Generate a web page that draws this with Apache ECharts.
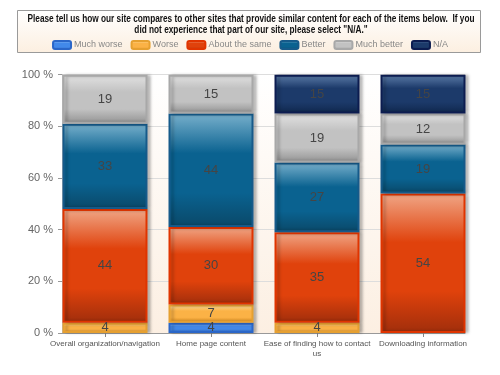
<!DOCTYPE html>
<html><head><meta charset="utf-8">
<script src="https://cdn.jsdelivr.net/npm/echarts@6/dist/echarts.min.js"></script>
<style>html,body{margin:0;padding:0;background:#fff}#c{width:500px;height:375px}</style>
</head><body><div id="c"></div>
<script>
const titleLines = ['Please tell us how our site compares to other sites that provide similar content for each of the items below.  If you', 'did not experience that part of our site, please select "N/A."'];
const categories = ['Overall organization/navigation', 'Home page content', 'Ease of finding how to contact\nus', 'Downloading information'];
const seriesNames = ['Much worse', 'Worse', 'About the same', 'Better', 'Much better', 'N/A'];
const muchWorse = [0, 4, 0, 0];
const worse = [4, 7, 4, 0];
const aboutSame = [44, 30, 35, 54];
const better = [33, 44, 27, 19];
const muchBetter = [19, 15, 19, 12];
const na = [0, 0, 15, 15];
const yTicks = [0, 20, 40, 60, 80, 100];

const values = [muchWorse, worse, aboutSame, better, muchBetter, na];
const palettes = [
  {top:'#9cc8fa', mid:'#4289ea', bot:'#2a62c2', border:'#2a66c8'},
  {top:'#fde2a6', mid:'#fbb246', bot:'#e29222', border:'#e6a030'},
  {top:'#f0a686', mid:'#e0420c', bot:'#a02e0c', border:'#e03400'},
  {top:'#78b0cc', mid:'#0a6290', bot:'#0a4868', border:'#165a8a'},
  {top:'#e2e2e2', mid:'#c2c2c2', bot:'#929292', border:'#a8a8a8'},
  {top:'#5c7ca8', mid:'#1c3a6a', bot:'#10284e', border:'#0c1c50'}
];
function grad(p){
  return new echarts.graphic.LinearGradient(0,0,0,1,[
    {offset:0,color:p.top},{offset:0.35,color:p.mid},{offset:0.7,color:p.mid},{offset:1,color:p.bot}]);
}
const SANS = '"Liberation Sans", Arial, sans-serif';

// scale title horizontally so that its first line spans ~447px like the reference
const cv = document.createElement('canvas').getContext('2d');
cv.font = 'bold 10.5px "Liberation Sans", Arial, sans-serif';
const w1 = cv.measureText(titleLines[0]).width;
const tScale = 447 / w1;

const chart = echarts.init(document.getElementById('c'), null, {renderer:'canvas'});
const series = seriesNames.map((name, i) => ({
  name, type:'bar', stack:'total', xAxisIndex:1, yAxisIndex:1,
  barWidth:85,
  data: values[i].map(v => v === 0 ? '-' : v),
  itemStyle:{color:grad(palettes[i]), borderColor:palettes[i].border, borderWidth:2,
    shadowColor:'rgba(0,0,0,0.25)', shadowBlur:3, shadowOffsetX:3},
  label:{show:true, position:'inside', color:'#454545', fontSize:13, fontFamily:SANS},
  emphasis:{disabled:true}
}));

chart.setOption({
  animation:false,
  graphic:[
    {type:'rect', z:-1, shape:{x:17.5, y:10.5, width:463, height:42},
      style:{fill:new echarts.graphic.LinearGradient(0,0,0,1,[{offset:0,color:'#ffffff'},{offset:1,color:'#fcefe0'}]), stroke:'#9a9a9a', lineWidth:1}},
    {type:'text', x:251, y:14, scaleX:tScale, scaleY:1, z:5,
      style:{text:titleLines.join('\n'), font:'bold 10.5px "Liberation Sans", Arial, sans-serif', fill:'#111',
        textAlign:'center', align:'center', textVerticalAlign:'top', verticalAlign:'top', lineHeight:11}}
  ],
  legend:{top:35, left:'center', itemWidth:18, itemHeight:8, itemGap:8,
    textStyle:{fontSize:9, color:'#888', fontFamily:SANS, padding:[0,0,0,-2]},
    data:seriesNames},
  grid:[
    {left:62, right:35, top:74.7, bottom:42, show:true, borderWidth:0,
      backgroundColor:new echarts.graphic.LinearGradient(0,0,0,1,[{offset:0,color:'#ffffff'},{offset:1,color:'#fcefe2'}])},
    {left:52, width:424, top:74.7, bottom:42}
  ],
  xAxis:[
    {type:'value', gridIndex:0, min:0, max:1, axisLine:{show:true, lineStyle:{color:'#999'}}, axisTick:{show:false}, axisLabel:{show:false}, splitLine:{show:false}},
    {type:'category', gridIndex:1, data:categories, axisLine:{show:false},
      axisTick:{show:true, alignWithLabel:true, length:4, lineStyle:{color:'#888'}},
      axisLabel:{interval:0, fontSize:8, color:'#555', fontFamily:SANS, margin:6, lineHeight:10}}
  ],
  yAxis:[
    {type:'value', gridIndex:0, min:yTicks[0], max:yTicks[yTicks.length-1], interval:yTicks[1]-yTicks[0],
      axisLine:{show:true, lineStyle:{color:'#bbb'}}, axisTick:{show:true, length:4, lineStyle:{color:'#999'}},
      axisLabel:{formatter:'{value} %', fontSize:11, color:'#666', fontFamily:SANS, margin:9},
      splitLine:{show:true, lineStyle:{color:'#ddd'}}},
    {type:'value', gridIndex:1, min:0, max:100, show:false}
  ],
  series
});
</script></body></html>
